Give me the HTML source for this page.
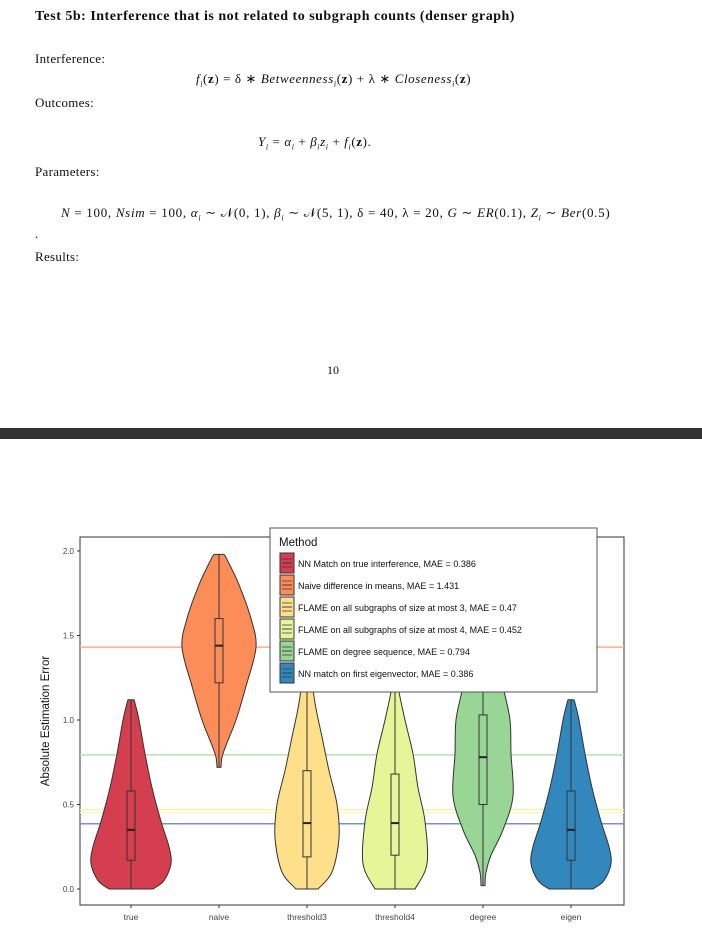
<!DOCTYPE html>
<html><head><meta charset="utf-8">
<style>
body{margin:0;width:702px;height:932px;background:#fff;position:relative;overflow:hidden;font-family:"Liberation Serif",serif;color:#111}
.t{position:absolute;white-space:nowrap;font-size:13px}
i{font-style:italic}
sub{font-size:8px}
</style></head><body>
<div class="t" style="left:35px;top:9px;font-weight:bold;font-size:14px;letter-spacing:0.5px">Test 5b: Interference that is not related to subgraph counts (denser graph)</div>
<div class="t" style="left:35px;top:51px;letter-spacing:0.3px">Interference:</div>
<div class="t" style="left:196px;top:71px;font-size:13px;letter-spacing:0.6px"><i>f<sub>i</sub></i>(<b>z</b>) = δ ∗ <i>Betweenness<sub>i</sub></i>(<b>z</b>) + λ ∗ <i>Closeness<sub>i</sub></i>(<b>z</b>)</div>
<div class="t" style="left:35px;top:95px;letter-spacing:0.3px">Outcomes:</div>
<div class="t" style="left:258px;top:134px;font-size:13px;letter-spacing:0.6px"><i>Y<sub>i</sub></i> = <i>α<sub>i</sub></i> + <i>β<sub>i</sub>z<sub>i</sub></i> + <i>f<sub>i</sub></i>(<b>z</b>).</div>
<div class="t" style="left:35px;top:164px;letter-spacing:0.3px">Parameters:</div>
<div class="t" style="left:61px;top:205px;font-size:13px;letter-spacing:0.7px"><i>N</i> = 100, <i>Nsim</i> = 100, <i>α<sub>i</sub></i> ∼ 𝒩(0, 1), <i>β<sub>i</sub></i> ∼ 𝒩(5, 1), δ = 40, λ = 20, <i>G</i> ∼ <i>ER</i>(0.1), <i>Z<sub>i</sub></i> ∼ <i>Ber</i>(0.5)</div>
<div class="t" style="left:35px;top:226px">.</div>
<div class="t" style="left:35px;top:249px;letter-spacing:0.3px">Results:</div>
<div class="t" style="left:327px;top:363px;font-size:12px">10</div>
<div style="position:absolute;left:0;top:428px;width:702px;height:11px;background:#333"></div>
<svg id="chart" width="702" height="932" style="position:absolute;left:0;top:0" font-family="Liberation Sans, sans-serif"></svg>
<script>
const categories=["true","naive","threshold3","threshold4","degree","eigen"];
const colors=["#d53e4f","#fc8d59","#fee08b","#e6f598","#99d594","#3288bd"];
const profileY=[
[0,0.05,0.15,0.25,0.4,0.6,0.8,1.0,1.1,1.12],
[0.72,0.78,0.85,1.0,1.2,1.43,1.6,1.8,1.95,1.98],
[0,0.1,0.3,0.5,0.7,0.9,1.1,1.3,1.5],
[0,0.15,0.4,0.6,0.8,1.0,1.2,1.35,1.5],
[0.02,0.1,0.2,0.35,0.55,0.8,1.0,1.2,1.4],
[0,0.05,0.15,0.25,0.4,0.6,0.8,1.0,1.1,1.12]];
const profileW=[
[22,33,40,38,30,21,14,8,4,3],
[2,3,7,17,27,37,32,20,8,5],
[11,25,32,30,22,15,8,4,2],
[20,32,30,23,18,10,3,1,1],
[2,3,8,20,30,28,27,20,14],
[22,33,40,38,30,21,14,8,4,3]];
const q1=[0.17,1.22,0.19,0.2,0.5,0.17];
const med=[0.35,1.44,0.39,0.39,0.78,0.35];
const q3=[0.58,1.6,0.70,0.68,1.03,0.58];
const whiskLo=[0,0.72,0,0,0.02,0];
const whiskHi=[1.12,1.98,1.5,1.5,1.4,1.12];
const maeVals=[1.431,0.794,0.47,0.452,0.386];
const maeColors=["#fdae8b","#b6e2b0","#f2f6b0","#f6f9c2","#7196cc"];
const yTicks=[0,0.5,1.0,1.5,2.0];
const legendLabels=["NN Match on true interference, MAE = 0.386","Naive difference in means, MAE = 1.431","FLAME on all subgraphs of size at most 3, MAE = 0.47","FLAME on all subgraphs of size at most 4, MAE = 0.452","FLAME on degree sequence, MAE = 0.794","NN match on first eigenvector, MAE = 0.386"];

const NS="http://www.w3.org/2000/svg";
const svg=document.getElementById('chart');
const L=80,R=624,T=537,B=905;
const y=v=>889-v*169;
const x=i=>131+i*88;
function mk(tag,at,parent){const e=document.createElementNS(NS,tag);for(const k in at)e.setAttribute(k,at[k]);(parent||svg).appendChild(e);return e;}
function smooth(pts){
  let d='';
  for(let k=0;k<pts.length-1;k++){
    const p0=pts[Math.max(k-1,0)],p1=pts[k],p2=pts[k+1],p3=pts[Math.min(k+2,pts.length-1)];
    const c1=[p1[0]+(p2[0]-p0[0])/6,p1[1]+(p2[1]-p0[1])/6];
    const c2=[p2[0]-(p3[0]-p1[0])/6,p2[1]-(p3[1]-p1[1])/6];
    d+=` C${c1[0]},${c1[1]} ${c2[0]},${c2[1]} ${p2[0]},${p2[1]}`;
  }
  return d;
}
let e;
e=mk('rect',{x:L,y:T,width:R-L,height:B-T,fill:'#fff',stroke:'#333','stroke-width':1});


yTicks.forEach(v=>{
  e=mk('line',{x1:L-3,x2:L,y1:y(v),y2:y(v),stroke:'#333'});
  
  
  e=mk('text',{x:L-6,y:y(v)+3,'text-anchor':'end','font-size':8,fill:'#444'});
  e.textContent=v.toFixed(1);
  
  
});
e=mk('text',{x:0,y:0,'font-size':11.5,fill:'#111','text-anchor':'middle',transform:`translate(49,${(T+B)/2}) rotate(-90)`});
e.textContent='Absolute Estimation Error';


maeVals.forEach((v,i)=>{
  e=mk('line',{x1:L,x2:R,y1:y(v),y2:y(v),stroke:maeColors[i],'stroke-width':1.5});
  
  
});
categories.forEach((c,i)=>{
  const ys=profileY[i],ws=profileW[i],cx=x(i);
  const left=ys.map((v,k)=>[cx-ws[k],y(v)]);
  const right=ys.map((v,k)=>[cx+ws[k],y(v)]).reverse();
  let d='M'+left[0][0]+','+left[0][1]+smooth(left)+' L'+right[0][0]+','+right[0][1]+smooth(right)+'Z';
  e=mk('path',{d:d,fill:colors[i],stroke:'#333','stroke-width':1,'stroke-linejoin':'round'});
  
  
  e=mk('line',{x1:cx,x2:cx,y1:y(whiskLo[i]),y2:y(whiskHi[i]),stroke:'#333'});
  
  
  e=mk('rect',{x:cx-4,y:y(q3[i]),width:8,height:y(q1[i])-y(q3[i]),fill:colors[i],stroke:'#333'});
  
  
  e=mk('line',{x1:cx-4,x2:cx+4,y1:y(med[i]),y2:y(med[i]),stroke:'#222','stroke-width':2});
  
  
  e=mk('line',{x1:cx,x2:cx,y1:B,y2:B+3,stroke:'#333'});
  
  
  e=mk('text',{x:cx,y:B+15,'text-anchor':'middle','font-size':8.5,fill:'#444'});
  e.textContent=c;
  
  
});
const lg=mk('g',{});


mk('rect',{x:270,y:528,width:327,height:164,fill:'#fff',stroke:'#555'},lg);
e=mk('text',{x:279,y:546,'font-size':11.5,fill:'#111'},lg);
e.textContent='Method';


legendLabels.forEach((t,i)=>{
  const yy=553+i*22;
  e=mk('rect',{x:280,y:yy,width:14,height:20,fill:colors[i],stroke:'#333'},lg);
  
  
  mk('line',{x1:282,x2:292,y1:yy+6,y2:yy+6,stroke:'#333','stroke-width':0.7},lg);
  mk('line',{x1:282,x2:292,y1:yy+10,y2:yy+10,stroke:'#333','stroke-width':0.9},lg);
  mk('line',{x1:282,x2:292,y1:yy+14,y2:yy+14,stroke:'#333','stroke-width':0.7},lg);
  e=mk('text',{x:298,y:yy+14,'font-size':9,fill:'#111'},lg);
  e.textContent=t;
  
  
});
</script>
</body></html>
